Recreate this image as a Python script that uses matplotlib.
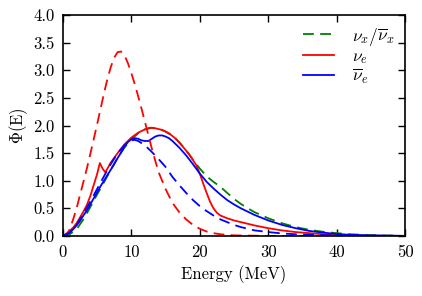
import matplotlib
matplotlib.use("Agg")
import matplotlib.pyplot as plt

# energies (MeV) and spectra
e_nue_dash = [0, 0.5, 1, 1.5, 2, 2.5, 3, 3.5, 4, 4.5, 5, 5.5, 6, 6.5, 7, 7.5, 8, 8.5, 9,
              9.5, 10, 10.5, 11, 11.5, 12, 12.5, 13, 13.5, 14, 14.5, 15, 16, 17, 18, 19,
              20, 21, 22, 23, 25, 30, 50]
nue_dash = [0, 0.0, 0.12, 0.3, 0.5, 0.74, 0.98, 1.22, 1.48, 1.75, 2.02, 2.3, 2.58, 2.84,
            3.06, 3.23, 3.33, 3.34, 3.27, 3.13, 2.95, 2.75, 2.53, 2.3, 2.06, 1.82, 1.58,
            1.36, 1.15, 1.0, 0.85, 0.6, 0.43, 0.3, 0.2, 0.13, 0.08, 0.05, 0.03, 0.01, 0, 0]

e_nue = [0, 0.7, 1.5, 2, 3, 3.5, 4, 4.5, 5, 5.4, 5.8, 6.2, 7, 8, 9, 10, 11, 12, 12.7,
         13.5, 14.5, 15.5, 16.5, 17.5, 18.5, 19.5, 20, 20.5, 21, 21.5, 22, 22.5, 23, 24,
         25, 26, 27, 28, 30, 32, 34, 36, 38, 40, 45, 50]
nue = [0, 0.06, 0.15, 0.23, 0.44, 0.56, 0.72, 0.92, 1.12, 1.32, 1.22, 1.15, 1.33, 1.5,
       1.66, 1.78, 1.87, 1.93, 1.96, 1.95, 1.92, 1.86, 1.76, 1.62, 1.47, 1.28, 1.13,
       0.95, 0.78, 0.62, 0.5, 0.42, 0.37, 0.32, 0.28, 0.25, 0.22, 0.19, 0.14, 0.1, 0.07,
       0.05, 0.03, 0.015, 0.003, 0]

e_nuebar = [0, 0.5, 1, 1.5, 2, 2.5, 3, 3.5, 4, 4.5, 5, 5.5, 6, 6.5, 7, 7.5, 8, 8.5, 9,
            9.5, 10, 10.5, 11, 11.5, 12, 12.5, 13, 13.5, 14, 14.5, 15, 15.5, 16, 17, 18,
            19, 20, 21, 22, 23, 24, 25, 26, 27, 28, 30, 32, 34, 36, 38, 40, 42, 45, 50]
nuebar = [0, 0.02, 0.06, 0.12, 0.19, 0.27, 0.37, 0.46, 0.57, 0.68, 0.79, 0.9, 1.0, 1.1,
          1.2, 1.3, 1.41, 1.51, 1.62, 1.7, 1.75, 1.77, 1.76, 1.73, 1.72, 1.72, 1.76, 1.8,
          1.82, 1.82, 1.8, 1.77, 1.72, 1.6, 1.46, 1.3, 1.13, 0.98, 0.86, 0.75, 0.65, 0.57,
          0.5, 0.44, 0.38, 0.28, 0.2, 0.14, 0.09, 0.06, 0.035, 0.02, 0.008, 0]

e_nuebar_dash = [0, 1, 2, 3, 4, 5, 6, 7, 8, 9, 10, 10.5, 11, 12, 13, 14, 15, 16, 17, 18,
                 19, 20, 21, 22, 23, 24, 25, 26, 27, 28, 30, 32, 34, 36, 40, 50]
nuebar_dash = [0, 0.06, 0.2, 0.4, 0.62, 0.85, 1.08, 1.3, 1.5, 1.64, 1.73, 1.74, 1.72,
               1.64, 1.52, 1.39, 1.25, 1.07, 0.92, 0.78, 0.65, 0.54, 0.45, 0.37, 0.3,
               0.25, 0.2, 0.16, 0.13, 0.1, 0.07, 0.045, 0.03, 0.02, 0.008, 0]

e_nux = [0, 1, 2, 3, 4, 5, 6, 7, 8, 9, 10, 11, 12, 13, 14, 15, 16, 17, 18, 19, 20, 21,
         22, 23, 24, 25, 26, 27, 28, 30, 32, 34, 36, 38, 40, 42, 45, 50]
nux = [0, 0.03, 0.12, 0.3, 0.52, 0.75, 0.97, 1.2, 1.42, 1.6, 1.75, 1.86, 1.93, 1.96,
       1.94, 1.89, 1.81, 1.7, 1.55, 1.38, 1.22, 1.08, 0.98, 0.89, 0.78, 0.67, 0.58, 0.5,
       0.43, 0.32, 0.23, 0.16, 0.11, 0.075, 0.05, 0.03, 0.015, 0]

x_ticks = [0, 10, 20, 30, 40, 50]
y_ticks = [0.0, 0.5, 1.0, 1.5, 2.0, 2.5, 3.0, 3.5, 4.0]

plt.rcParams["font.family"] = "cmr10"
plt.rcParams["mathtext.fontset"] = "cm"
plt.rcParams["axes.unicode_minus"] = False
plt.rcParams["axes.formatter.use_mathtext"] = True
plt.rcParams["font.size"] = 12

fig = plt.figure(figsize=(4.22, 2.96), dpi=100)
ax = fig.add_axes([0.149, 0.203, 0.811, 0.746])

lw = 1.3
dash = (6, 3.5)
ax.plot(e_nux, nux, color=(0, 0.5, 0), lw=lw, dashes=dash, label=r"$\nu_x/\overline{\nu}_x$")
ax.plot(e_nue, nue, color="r", lw=lw, label=r"$\nu_e$")
ax.plot(e_nuebar, nuebar, color="b", lw=lw, label=r"$\overline{\nu}_e$")
ax.plot(e_nue_dash, nue_dash, color="r", lw=lw, dashes=dash)
ax.plot(e_nuebar_dash, nuebar_dash, color="b", lw=lw, dashes=dash)

ax.set_xlim(0, 50)
ax.set_ylim(0, 4.0)
ax.set_xticks(x_ticks)
ax.set_yticks(y_ticks)
ax.set_xticklabels([str(t) for t in x_ticks])
ax.set_yticklabels(["%.1f" % t for t in y_ticks])
ax.tick_params(direction="in", top=True, right=True, length=5, width=1, pad=6)
for s in ax.spines.values():
    s.set_linewidth(1.2)

ax.set_xlabel("Energy (MeV)")
ax.set_ylabel(r"$\Phi$(E)", labelpad=2)

ax.legend(loc="upper right", frameon=False, fontsize=12.5, handlelength=1.8,
          labelspacing=0.05, borderaxespad=0.2, handletextpad=1.0)

fig.savefig("out.png", dpi=100)
